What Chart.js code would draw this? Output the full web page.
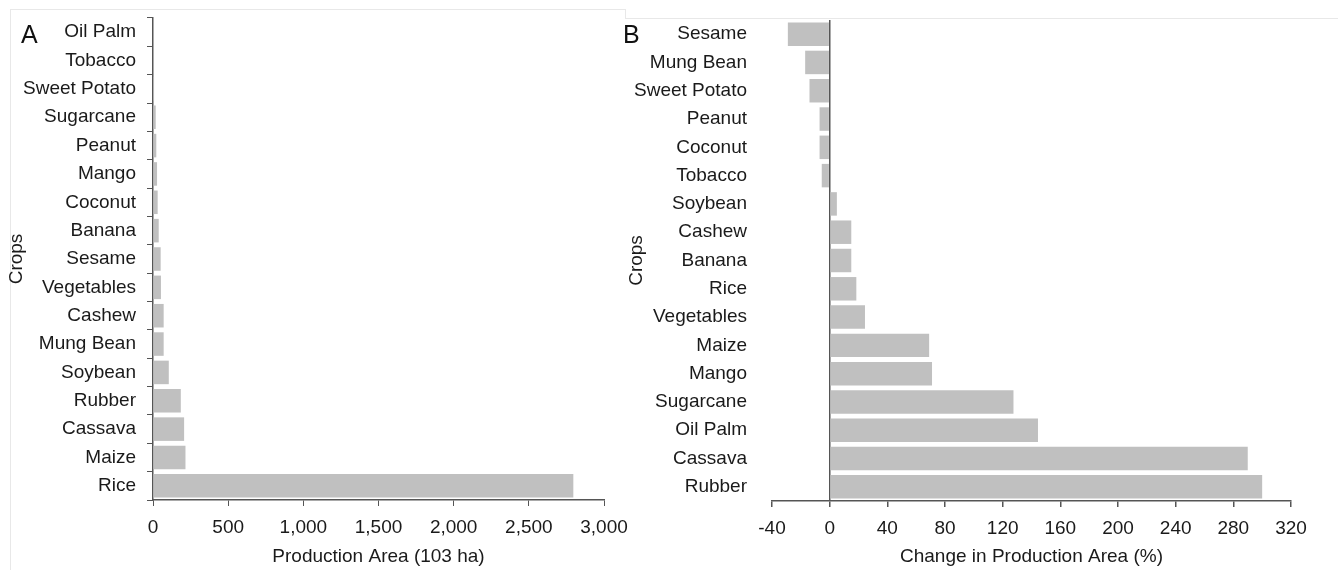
<!DOCTYPE html>
<html>
<head>
<meta charset="utf-8">
<script src="https://cdn.jsdelivr.net/npm/chart.js@4.4.1/dist/chart.umd.min.js"></script>
<style>
  body { margin: 0; background: #fff; width: 1338px; height: 570px; overflow: hidden; position: relative; }
  canvas { position: absolute; top: 0; }
  .frameA { position: absolute; left: 10px; top: 9px; width: 615px; height: 600px; border-top: 1px solid #e8e8e8; border-left: 1px solid #e8e8e8; }
  .frameB { position: absolute; left: 625px; top: 9px; width: 713px; height: 9px; border-left: 1px solid #e8e8e8; border-bottom: 1px solid #e8e8e8; }
  .tag { position: absolute; top: 20px; font: 25px "Liberation Sans Narrow", "Liberation Sans", sans-serif; color: #111; }
</style>
</head>
<body>
<div class="frameA"></div>
<div class="frameB"></div>
<canvas id="chartB" width="713" height="570" style="left:625px"></canvas>
<canvas id="chartA" width="645" height="570" style="left:0"></canvas>
<div class="tag" style="left:21px">A</div>
<div class="tag" style="left:623px">B</div>
<script>
// panel A: production area (10^3 ha)
var cropsA = ['Oil Palm', 'Tobacco', 'Sweet Potato', 'Sugarcane', 'Peanut', 'Mango', 'Coconut', 'Banana',
  'Sesame', 'Vegetables', 'Cashew', 'Mung Bean', 'Soybean', 'Rubber', 'Cassava', 'Maize', 'Rice'];
var areaA = [3, 4, 7, 18, 22, 27, 31, 38, 51, 53, 71, 71, 105, 185, 207, 216, 2796];

// panel B: change in production area (%)
var cropsB = ['Sesame', 'Mung Bean', 'Sweet Potato', 'Peanut', 'Coconut', 'Tobacco', 'Soybean', 'Cashew',
  'Banana', 'Rice', 'Vegetables', 'Maize', 'Mango', 'Sugarcane', 'Oil Palm', 'Cassava', 'Rubber'];
var changeB = [-29, -17, -14, -7, -7, -5.5, 5, 15, 15, 18.5, 24.5, 69, 71, 127.5, 144.5, 290, 300];

var FONT = '"Liberation Sans Narrow", "Liberation Sans", sans-serif';
var TXT = '#1a1a1a';
var AX = '#555';
var BAR = '#c0c0c0';
Chart.defaults.font.family = FONT;
Chart.defaults.font.size = 19;
Chart.defaults.color = TXT;

// fixed scale sizes, no automatic label overflow padding
function fixSize(w, h) {
    return s => {
        if (w) s.width = w;
        if (h) s.height = h;
        s.paddingLeft = 0; s.paddingRight = 0; s.paddingTop = 0; s.paddingBottom = 0;
    };
}

var chartA = new Chart(document.getElementById('chartA').getContext('2d'), {
    type: 'bar',
    data: {
        labels: cropsA,
        datasets: [{ data: areaA, backgroundColor: BAR, barPercentage: 0.83, categoryPercentage: 1 }]
    },
    options: {
        indexAxis: 'y',
        responsive: false,
        animation: false,
        devicePixelRatio: 1,
        layout: { padding: { top: 18, right: 41, left: 0, bottom: 0 } },
        plugins: { legend: { display: false }, tooltip: { enabled: false } },
        scales: {
            x: {
                min: 0, max: 3000,
                ticks: { stepSize: 500, padding: 10, maxRotation: 0, callback: v => v.toLocaleString('en-US') },
                grid: { drawOnChartArea: false, drawTicks: true, tickLength: 6, color: AX },
                border: { display: true, color: AX, width: 1.5 },
                title: { display: true, text: 'Production Area (103 ha)', padding: { top: 0, bottom: 2 } },
                afterFit: fixSize(0, 70)
            },
            y: {
                ticks: { padding: 11, autoSkip: false },
                grid: { drawOnChartArea: false, drawTicks: true, tickLength: 6, color: AX, offset: true },
                border: { display: true, color: AX, width: 1.5 },
                title: { display: true, text: 'Crops', padding: { top: 5, bottom: 0 } },
                afterFit: fixSize(153, 0)
            }
        }
    }
});

var chartB = new Chart(document.getElementById('chartB').getContext('2d'), {
    type: 'bar',
    data: {
        labels: cropsB,
        datasets: [{ data: changeB, backgroundColor: BAR, barPercentage: 0.83, categoryPercentage: 1 }]
    },
    options: {
        indexAxis: 'y',
        responsive: false,
        animation: false,
        devicePixelRatio: 1,
        layout: { padding: { top: 20, right: 47, left: 0, bottom: 0 } },
        plugins: { legend: { display: false }, tooltip: { enabled: false } },
        scales: {
            x: {
                min: -40, max: 320,
                ticks: { stepSize: 40, padding: 10, maxRotation: 0 },
                grid: {
                    drawTicks: true, tickLength: 6, tickColor: AX, lineWidth: 1.5,
                    color: ctx => (ctx.tick && ctx.tick.value === 0) ? AX : 'rgba(0,0,0,0)'
                },
                border: { display: true, color: AX, width: 1.5 },
                title: { display: true, text: 'Change in Production Area (%)', padding: { top: 0, bottom: 2 } },
                afterFit: fixSize(0, 69)
            },
            y: {
                ticks: { padding: 17, autoSkip: false },
                grid: { display: false },
                border: { display: false },
                title: { display: true, text: 'Crops', padding: { top: 0, bottom: 0 } },
                afterFit: fixSize(147, 0)
            }
        }
    }
});
</script>
</body>
</html>
